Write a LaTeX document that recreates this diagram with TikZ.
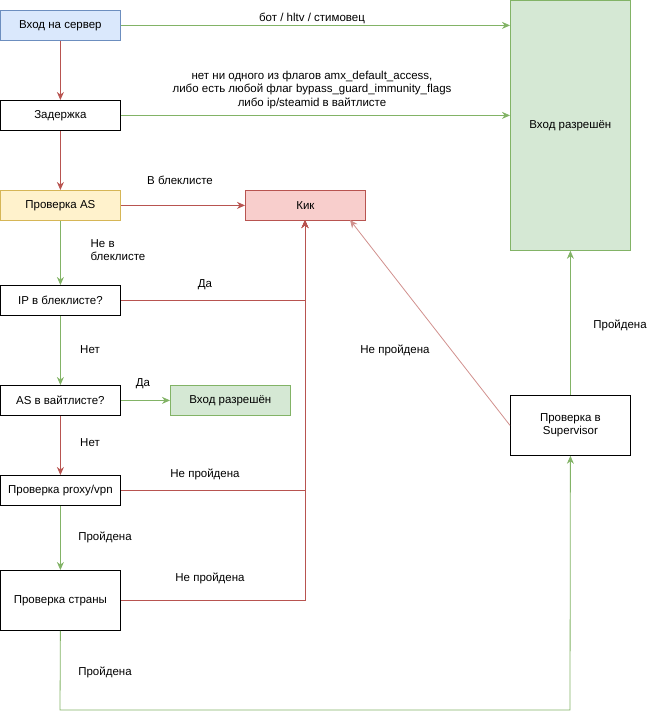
\documentclass[tikz,border=0pt]{standalone}
\usepackage{fontspec}
\setmainfont{Liberation Sans}
\usetikzlibrary{arrows.meta}
\definecolor{blueF}{HTML}{DAE8FC}\definecolor{blueD}{HTML}{6C8EBF}
\definecolor{yelF}{HTML}{FFF2CC}\definecolor{yelD}{HTML}{D6B656}
\definecolor{redF}{HTML}{F8CECC}\definecolor{redD}{HTML}{B85450}
\definecolor{grnF}{HTML}{D5E8D4}\definecolor{grnD}{HTML}{82B366}
\begin{document}
\begin{tikzpicture}[
    x=1pt, y=-1pt,
    line width=0.8pt,
    font=\fontsize{11.5}{13.5}\selectfont,
    box/.style={draw, minimum width=120pt, minimum height=30pt, inner sep=1pt, align=center, anchor=north west, fill=white},
    yes/.style={draw=grnD, -{Stealth[length=8pt,width=7pt]}},
    no/.style={draw=redD, -{Stealth[length=8pt,width=7pt]}},
    lbl/.style={align=center, inner sep=0pt}
]
\useasboundingbox (0,0) rectangle (661,720);
% nodes
\node[box, fill=blueF, draw=blueD] (srv) at (0,10) {Вход на сервер};
\node[box] (delay) at (0,100) {Задержка};
\node[box, fill=yelF, draw=yelD] (as) at (0,190) {Проверка AS};
\node[box, fill=redF, draw=redD] (kick) at (245,190) {Кик};
\node[box] (ipbl) at (0,285) {IP в блеклисте?};
\node[box] (aswl) at (0,385) {AS в вайтлисте?};
\node[box, fill=grnF, draw=grnD] (okS) at (170,385) {Вход разрешён};
\node[box] (proxy) at (0,475) {Проверка proxy/vpn};
\node[box, minimum height=60pt] (cntry) at (0,570) {Проверка страны};
\node[box, fill=grnF, draw=grnD, minimum height=250pt] (okL) at (510,0) {Вход разрешён};
\node[box, minimum height=60pt] (sup) at (510,395) {Проверка в\\Supervisor};
\coordinate (bl) at (60,710);
\coordinate (br) at (570,710);
% connectors
\draw[no] (srv) -- (delay);
\draw[no] (delay) -- (as);
\draw[yes] (srv.east) -- (srv.east -| okL.west);
\draw[yes] (delay.east) -- (delay.east -| okL.west);
\draw[no] (as) -- (kick);
\draw[yes] (as) -- (ipbl);
\draw[no] (ipbl.east) -| (305,220);
\draw[yes] (ipbl) -- (aswl);
\draw[yes] (aswl) -- (okS);
\draw[no] (aswl) -- (proxy);
\draw[no] (proxy.east) -| (305,220);
\draw[yes] (proxy) -- (cntry);
\draw[no] (cntry.east) -| (305,220);
\draw[yes] (cntry.south) -- (bl) -- (br) -- (sup.south);
\draw[no, draw=redD!65] (sup.west) -- (350,220);
\draw[yes] (sup) -- (okL);
% labels
\node[lbl] at (312,18) {бот / hltv / стимовец};
\node[lbl] at (312,90) {нет ни одного из флагов amx\_default\_access,\\либо есть любой флаг bypass\_guard\_immunity\_flags\\либо ip/steamid в вайтлисте};
\node[lbl] at (180,180) {В блеклисте};
\node[lbl, align=left] at (118,250) {Не в\\блеклисте};
\node[lbl] at (205,285) {Да};
\node[lbl] at (90,350) {Нет};
\node[lbl] at (143,384) {Да};
\node[lbl] at (90,443) {Нет};
\node[lbl] at (205,474) {Не пройдена};
\node[lbl] at (105,537) {Пройдена};
\node[lbl] at (210,578) {Не пройдена};
\node[lbl] at (105,672) {Пройдена};
\node[lbl] at (395,350) {Не пройдена};
\node[lbl] at (620,325) {Пройдена};
\end{tikzpicture}
\end{document}
